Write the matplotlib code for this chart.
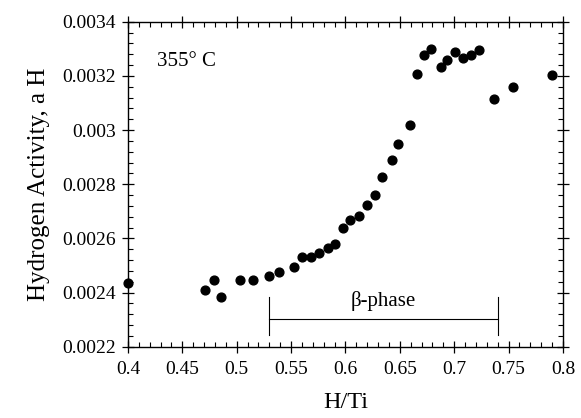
import matplotlib
matplotlib.use("Agg")
import matplotlib.pyplot as plt
from matplotlib.ticker import MultipleLocator, FixedLocator, FixedFormatter

h_ti = [0.400, 0.471, 0.479, 0.4855, 0.503, 0.515, 0.530, 0.539, 0.553, 0.560,
        0.568, 0.576, 0.584, 0.590, 0.598, 0.604, 0.612, 0.620, 0.6267, 0.6337,
        0.6424, 0.6482, 0.6592, 0.6656, 0.6721, 0.6785, 0.688, 0.6929, 0.7008,
        0.7085, 0.715, 0.7229, 0.737, 0.7536, 0.790]
activity = [0.002437, 0.00241, 0.002446, 0.002384, 0.002448, 0.002448, 0.00246,
            0.002474, 0.002495, 0.002533, 0.002532, 0.002547, 0.002566, 0.002578,
            0.00264, 0.002668, 0.002681, 0.002725, 0.00276, 0.002827, 0.002889,
            0.002947, 0.003019, 0.003207, 0.003278, 0.003298, 0.003234, 0.003257,
            0.003289, 0.003265, 0.003277, 0.003297, 0.003115, 0.00316, 0.003204]

x_ticks = [0.4, 0.45, 0.5, 0.55, 0.6, 0.65, 0.7, 0.75, 0.8]
x_labels = ["0.4", "0.45", "0.5", "0.55", "0.6", "0.65", "0.7", "0.75", "0.8"]
y_ticks = [0.0022, 0.0024, 0.0026, 0.0028, 0.003, 0.0032, 0.0034]
y_labels = ["0.0022", "0.0024", "0.0026", "0.0028", "0.003", "0.0032", "0.0034"]

beta_start, beta_end = 0.53, 0.74
beta_y = 0.002301

plt.rcParams['font.family'] = ['Liberation Serif', 'DejaVu Serif']

fig = plt.figure(figsize=(5.81, 4.18), dpi=100)
ax = fig.add_axes([0.2203, 0.1706, 0.969 - 0.2203, 0.948 - 0.1706])

ax.scatter(h_ti, activity, s=40, color='black', zorder=3, clip_on=False)

ax.set_xlim(0.4, 0.8)
ax.set_ylim(0.0022, 0.0034)

ax.xaxis.set_major_locator(FixedLocator(x_ticks))
ax.xaxis.set_major_formatter(FixedFormatter(x_labels))
ax.yaxis.set_major_locator(FixedLocator(y_ticks))
ax.yaxis.set_major_formatter(FixedFormatter(y_labels))
ax.xaxis.set_minor_locator(MultipleLocator(0.01))
ax.yaxis.set_minor_locator(MultipleLocator(0.00004))

ax.tick_params(which='major', direction='inout', length=9, width=0.9,
               top=True, right=True, labelsize=14)
ax.tick_params(axis='x', which='major', pad=6)
ax.tick_params(axis='y', which='major', pad=4)
ax.tick_params(which='minor', direction='in', length=3.5, width=0.8,
               top=True, right=True)
for s in ax.spines.values():
    s.set_linewidth(1.0)

# beta-phase bracket
ax.plot([beta_start, beta_end], [beta_y, beta_y], color='black', lw=0.8)
ax.plot([beta_start, beta_start], [0.002243, 0.002385], color='black', lw=0.8)
ax.plot([beta_end, beta_end], [0.002243, 0.002385], color='black', lw=0.8)
ax.text((beta_start + beta_end) / 2, 0.002369, "β-phase", ha='center', va='center',
        fontsize=15)

ax.text(0.4264, 0.003255, "355° C", ha='left', va='center', fontsize=15)

ax.set_xlabel("H/Ti", fontsize=17.5, labelpad=10)
ax.set_ylabel("Hydrogen Activity, a H", fontsize=18, labelpad=9)

fig.savefig("out.png", dpi=100)
